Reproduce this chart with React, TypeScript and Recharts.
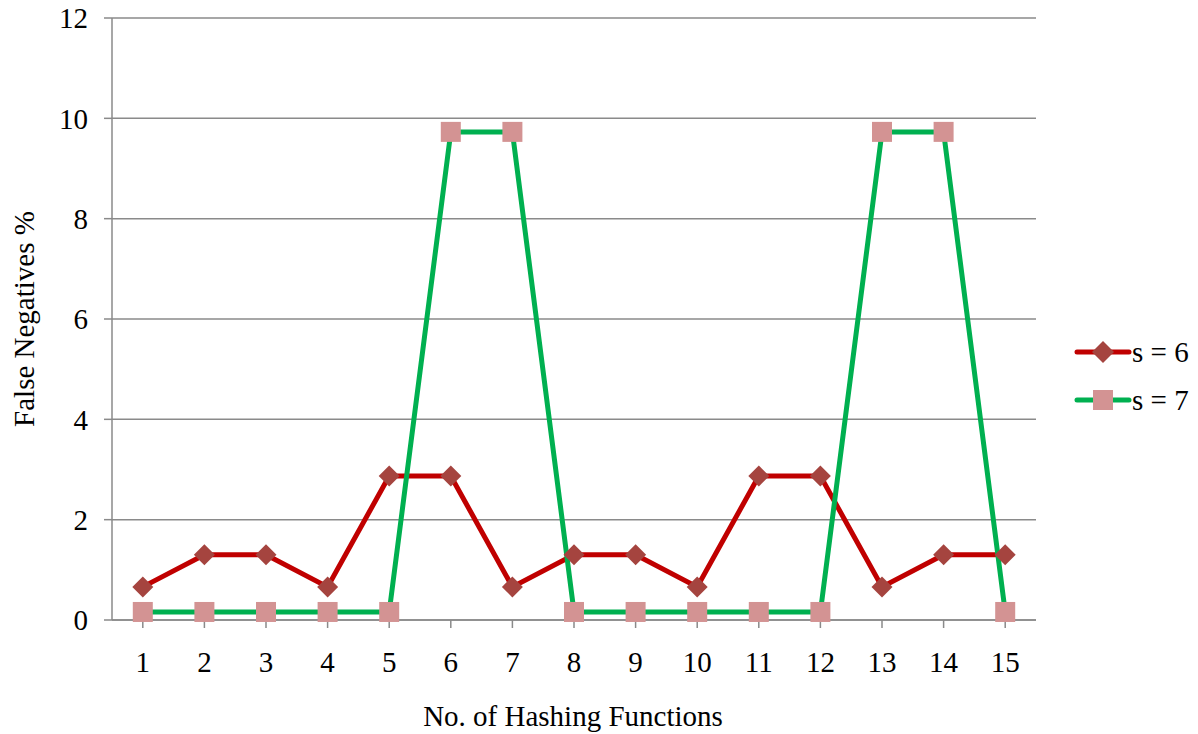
import React from 'react';
import { LineChart, Line, XAxis, YAxis, CartesianGrid } from 'recharts';

const categories = ['1','2','3','4','5','6','7','8','9','10','11','12','13','14','15'];
const s6Values = [0.66, 1.3, 1.3, 0.66, 2.87, 2.87, 0.66, 1.3, 1.3, 0.66, 2.87, 2.87, 0.66, 1.3, 1.3];
const s7Values = [0.16, 0.16, 0.16, 0.16, 0.16, 9.73, 9.73, 0.16, 0.16, 0.16, 0.16, 0.16, 9.73, 9.73, 0.16];
const yTicks = [0, 2, 4, 6, 8, 10, 12];
const seriesNames = ['s = 6', 's = 7'];

const data = categories.map((c, i) => ({ x: c, s6: s6Values[i], s7: s7Values[i] }));

const FONT = '"Liberation Serif", "Times New Roman", serif';
const FS = 29;
const GRAY = '#8a8a8a';
const RED = '#C00000';
const DIAMOND = '#A5443F';
const GREEN = '#00B050';
const SQUARE = '#D39393';

const Diamond = (props: any) => {
  const { cx, cy } = props;
  if (cx == null || cy == null) return null;
  const r = 10.5;
  return <polygon points={`${cx},${cy - r} ${cx + r},${cy} ${cx},${cy + r} ${cx - r},${cy}`} fill={DIAMOND} stroke="none" />;
};

const Square = (props: any) => {
  const { cx, cy } = props;
  if (cx == null || cy == null) return null;
  const h = 10;
  return <rect x={cx - h} y={cy - h} width={2 * h} height={2 * h} fill={SQUARE} stroke="none" />;
};

const LegendBox = () => (
  <div style={{ position: 'absolute', left: 1074, top: 328, fontFamily: FONT, fontSize: FS, color: '#000' }}>
    {[
      { name: seriesNames[0], line: RED, kind: 'd' },
      { name: seriesNames[1], line: GREEN, kind: 's' },
    ].map((it, i) => (
      <div key={i} style={{ display: 'flex', alignItems: 'center', height: 48 }}>
        <svg width={58} height={24}>
          <line x1={3} y1={12} x2={55} y2={12} stroke={it.line} strokeWidth={5} strokeLinecap="round" />
          {it.kind === 'd' ? (
            <polygon points="29,1 40,12 29,23 18,12" fill={DIAMOND} />
          ) : (
            <rect x={19} y={2} width={20} height={20} fill={SQUARE} />
          )}
        </svg>
        <span style={{ lineHeight: '29px' }}>{it.name}</span>
      </div>
    ))}
  </div>
);

const YLabel = () => (
  <text x={24} y={319} transform="rotate(-90 24 319)" textAnchor="middle" dominantBaseline="central"
    fontFamily={FONT} fontSize={FS} fill="#000">False Negatives %</text>
);

const XLabel = () => (
  <text x={573} y={716} textAnchor="middle" dominantBaseline="central"
    fontFamily={FONT} fontSize={FS} fill="#000">No. of Hashing Functions</text>
);

export default function App() {
  return (
    <div style={{ position: 'absolute', left: 0, top: 0, width: 1198, height: 734, background: '#fff' }}>
      <LineChart width={1198} height={734} data={data} margin={{ top: 18, right: 162, bottom: 0, left: 0 }}>
        <CartesianGrid horizontal vertical={false} stroke={GRAY} strokeWidth={1.5} />
        <XAxis dataKey="x" scale="band" height={114} interval={0}
          axisLine={{ stroke: GRAY, strokeWidth: 1.5 }} tickLine={{ stroke: GRAY, strokeWidth: 1.5 }}
          tickSize={8} tickMargin={23}
          tick={{ fontFamily: FONT, fontSize: FS, fill: '#000' }}
          label={<XLabel />} />
        <YAxis domain={[0, 12]} ticks={yTicks} width={112} interval={0}
          axisLine={{ stroke: GRAY, strokeWidth: 1.5 }} tickLine={{ stroke: GRAY, strokeWidth: 1.5 }}
          tickSize={8} tickMargin={16}
          tick={{ fontFamily: FONT, fontSize: FS, fill: '#000' }}
          label={<YLabel />} />
        <Line type="linear" dataKey="s6" name={seriesNames[0]} stroke={RED} strokeWidth={5}
          dot={<Diamond />} activeDot={false} isAnimationActive={false} />
        <Line type="linear" dataKey="s7" name={seriesNames[1]} stroke={GREEN} strokeWidth={5}
          dot={<Square />} activeDot={false} isAnimationActive={false} />
      </LineChart>
      <LegendBox />
    </div>
  );
}
